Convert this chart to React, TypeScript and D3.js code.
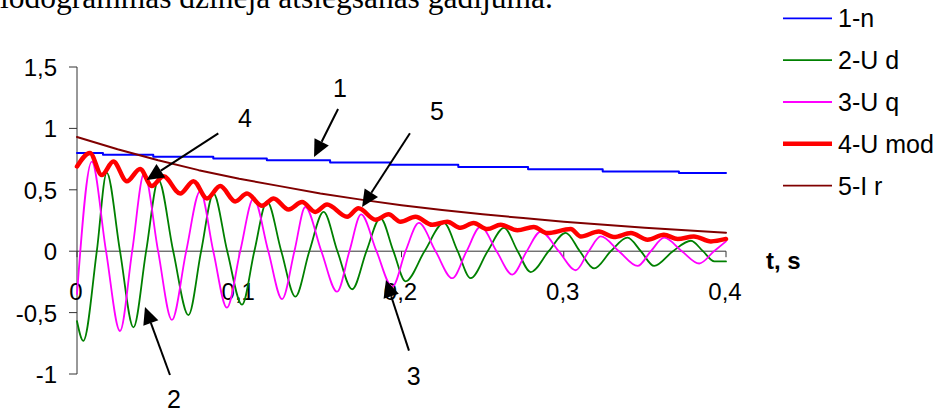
import React from 'react';
import * as d3 from 'd3';

type P = [number, number];

// ---------- data (t in seconds, value in p.u.) ----------
const xTicks = [0, 0.1, 0.2, 0.3, 0.4];
const yTicks = [-1, -0.5, 0, 0.5, 1, 1.5];
const seriesNames = ['1-n', '2-U d', '3-U q', '4-U mod', '5-I r'];
const seriesColors = ['#0000FF', '#008000', '#FF00FF', '#FF0000', '#800000'];

const nPoints: P[] = [
  [0, 0.8], [0.016, 0.785], [0.047, 0.77], [0.084, 0.755], [0.117, 0.74],
  [0.156, 0.722], [0.193, 0.703], [0.235, 0.685], [0.278, 0.668],
  [0.324, 0.65], [0.371, 0.636], [0.4, 0.636],
];

const udPoints: P[] = [
  [0, -0.57], [0.0039, -0.73], [0.0122, 0], [0.0183, 0.64], [0.0265, 0],
  [0.0348, -0.62], [0.0426, 0], [0.0502, 0.58], [0.0593, 0], [0.0687, -0.52],
  [0.0765, 0], [0.0841, 0.47], [0.0926, 0], [0.1017, -0.435], [0.1093, 0],
  [0.1171, 0.405], [0.1259, 0], [0.1346, -0.37], [0.1432, 0], [0.152, 0.32],
  [0.1605, 0], [0.1696, -0.31], [0.1784, 0], [0.187, 0.27], [0.195, 0],
  [0.2025, -0.245], [0.2142, 0], [0.2261, 0.23], [0.2346, 0], [0.2426, -0.22],
  [0.2531, 0], [0.2632, 0.19], [0.2716, 0], [0.2796, -0.17], [0.2907, 0],
  [0.3012, 0.15], [0.3099, 0], [0.3187, -0.14], [0.329, 0], [0.3393, 0.11],
  [0.3475, 0], [0.3557, -0.12], [0.3673, 0], [0.3784, 0.085], [0.3858, 0],
  [0.3928, -0.083], [0.4, -0.083],
];

const uqPoints: P[] = [
  [0, -0.35], [0.0091, 0.73], [0.0179, 0], [0.0265, -0.65], [0.034, 0],
  [0.0414, 0.635], [0.05, 0], [0.0585, -0.56], [0.0673, 0], [0.0759, 0.49],
  [0.084, 0], [0.0924, -0.46], [0.1006, 0], [0.1088, 0.43], [0.1179, 0],
  [0.1264, -0.39], [0.134, 0], [0.1407, 0.36], [0.1506, 0], [0.1603, -0.33],
  [0.1679, 0], [0.1751, 0.3], [0.1846, 0], [0.1943, -0.29], [0.2025, 0],
  [0.2107, 0.23], [0.221, 0], [0.2313, -0.22], [0.2401, 0], [0.2488, 0.2],
  [0.2586, 0], [0.2683, -0.19], [0.2772, 0], [0.2858, 0.16], [0.2969, 0],
  [0.3074, -0.155], [0.3154, 0], [0.3228, 0.12], [0.334, 0], [0.3455, -0.12],
  [0.3537, 0], [0.3619, 0.11], [0.3728, 0], [0.3835, -0.1], [0.3926, 0],
  [0.4, 0.08],
];

const umodPoints: P[] = [
  [0, 0.69], [0.008, 0.8], [0.0152, 0.62], [0.0224, 0.73], [0.0307, 0.57],
  [0.0389, 0.67], [0.0461, 0.53], [0.0533, 0.61], [0.0636, 0.47], [0.0718, 0.57],
  [0.0801, 0.43], [0.0883, 0.53], [0.0975, 0.405], [0.1048, 0.47], [0.114, 0.37],
  [0.1212, 0.43], [0.1304, 0.34], [0.1387, 0.4], [0.1469, 0.32], [0.1541, 0.38],
  [0.1665, 0.28], [0.1735, 0.35], [0.184, 0.256], [0.192, 0.3], [0.1994, 0.24],
  [0.2086, 0.28], [0.219, 0.215], [0.2282, 0.24], [0.2364, 0.19], [0.2444, 0.23],
  [0.2529, 0.18], [0.2611, 0.215], [0.2714, 0.17], [0.2815, 0.197], [0.2899, 0.148],
  [0.3043, 0.18], [0.3105, 0.12], [0.3216, 0.16], [0.3309, 0.115], [0.3414, 0.148],
  [0.3517, 0.094], [0.3617, 0.134], [0.3702, 0.1], [0.3802, 0.12], [0.3907, 0.08],
  [0.4, 0.1],
];

const irPoints: P[] = [
  [0, 0.93], [0.025, 0.83], [0.05, 0.74], [0.075, 0.66], [0.1, 0.59],
  [0.125, 0.53], [0.15, 0.47], [0.175, 0.42], [0.2, 0.375], [0.225, 0.335],
  [0.25, 0.3], [0.275, 0.27], [0.3, 0.24], [0.325, 0.215], [0.35, 0.19],
  [0.375, 0.17], [0.4, 0.15],
];

// annotation callouts in data units: label, label pos, arrow start, arrow tip
const calloutLabels = ['1', '4', '5', '2', '3'];
const calloutText: P[] = [[0.1621, 1.254], [0.1035, 1.011], [0.2219, 1.068], [0.0598, -1.277], [0.2075, -1.09]];
const calloutFrom: P[] = [[0.1609, 1.158], [0.0871, 0.96], [0.2052, 0.96], [0.0573, -1.008], [0.2046, -0.81]];
const calloutTo: P[] = [[0.1461, 0.767], [0.0429, 0.58], [0.1757, 0.36], [0.0419, -0.454], [0.1904, -0.235]];

const fmt = (v: number) => String(v).replace('.', ',');

export default function App() {
  const W = 938, H = 412;
  const x = d3.scaleLinear().domain([0, 0.4]).range([77, 726]);
  const y = d3.scaleLinear().domain([-1, 1.5]).range([374, 67]);
  const sans = '"Liberation Sans", Arial, sans-serif';

  const smooth = d3.line<P>().x(d => x(d[0])).y(d => y(d[1])).curve(d3.curveMonotoneX);
  const linear = d3.line<P>().x(d => x(d[0])).y(d => y(d[1]));
  const step = d3.line<P>().x(d => x(d[0])).y(d => y(d[1])).curve(d3.curveStepAfter);

  const series = [
    { d: step(nPoints), w: 2 },
    { d: smooth(udPoints), w: 1.8 },
    { d: smooth(uqPoints), w: 1.8 },
    { d: smooth(umodPoints), w: 4.5 },
    { d: linear(irPoints), w: 2 },
  ];
  const legendW = [1.8, 1.8, 1.8, 4.5, 1.8];

  const arrows = calloutFrom.map((f, i) => {
    const x1 = x(f[0]), y1 = y(f[1]);
    const x2 = x(calloutTo[i][0]), y2 = y(calloutTo[i][1]);
    const dx = x2 - x1, dy = y2 - y1;
    const len = Math.hypot(dx, dy);
    const ux = dx / len, uy = dy / len;
    const hl = 17, hw = 8;
    const bx = x2 - ux * hl, by = y2 - uy * hl;
    const head = `${x2},${y2} ${bx - uy * hw},${by + ux * hw} ${bx + uy * hw},${by - ux * hw}`;
    return { x1, y1, bx, by, head };
  });

  return (
    <svg width={W} height={H} style={{ position: 'absolute', left: 0, top: 0, background: '#fff' }}>
      <text x={0} y={8} fontFamily='"Liberation Serif", "Times New Roman", serif' fontSize={31.5} fill="#000">
        lodogrammas dzinēja atslēgšanas gadījumā.
      </text>

      {/* y axis */}
      <line x1={x(0)} x2={x(0)} y1={y(1.5)} y2={y(-1)} stroke="#333" strokeWidth={1} />
      {yTicks.map(t => (
        <g key={t}>
          <line x1={x(0) - 8} x2={x(0)} y1={y(t)} y2={y(t)} stroke="#333" strokeWidth={1} />
          <text x={57} y={y(t) + 9} textAnchor="end" fontFamily={sans} fontSize={24} fill="#000">{fmt(t)}</text>
        </g>
      ))}

      {/* x axis */}
      <line x1={x(0)} x2={x(0.4)} y1={y(0)} y2={y(0)} stroke="#333" strokeWidth={1} />
      {xTicks.map(t => (
        <g key={t}>
          <line x1={x(t)} x2={x(t)} y1={y(0)} y2={y(0) + 6} stroke="#333" strokeWidth={1} />
          <text x={x(t) - 1} y={300} textAnchor="middle" fontFamily={sans} fontSize={24} fill="#000">{fmt(t)}</text>
        </g>
      ))}
      <text x={766} y={269} fontFamily={sans} fontSize={24} fontWeight="bold" fill="#000">t, s</text>

      {/* series */}
      {series.map((s, i) => (
        <path key={i} d={s.d || ''} fill="none" stroke={seriesColors[i]} strokeWidth={s.w}
          strokeLinejoin="round" strokeLinecap="round" />
      ))}

      {/* legend */}
      {seriesNames.map((n, i) => {
        const ly = 18.3 + i * 41.85;
        return (
          <g key={n}>
            <line x1={783} x2={832} y1={ly} y2={ly} stroke={seriesColors[i]} strokeWidth={legendW[i]} />
            <text x={838} y={ly + 9} fontFamily={sans} fontSize={25} fill="#000">{n}</text>
          </g>
        );
      })}

      {/* callouts */}
      {arrows.map((a, i) => (
        <g key={i}>
          <line x1={a.x1} y1={a.y1} x2={a.bx} y2={a.by} stroke="#000" strokeWidth={2} />
          <polygon points={a.head} fill="#000" />
          <text x={x(calloutText[i][0])} y={y(calloutText[i][1])} textAnchor="middle"
            fontFamily={sans} fontSize={25} fill="#000">{calloutLabels[i]}</text>
        </g>
      ))}
    </svg>
  );
}
